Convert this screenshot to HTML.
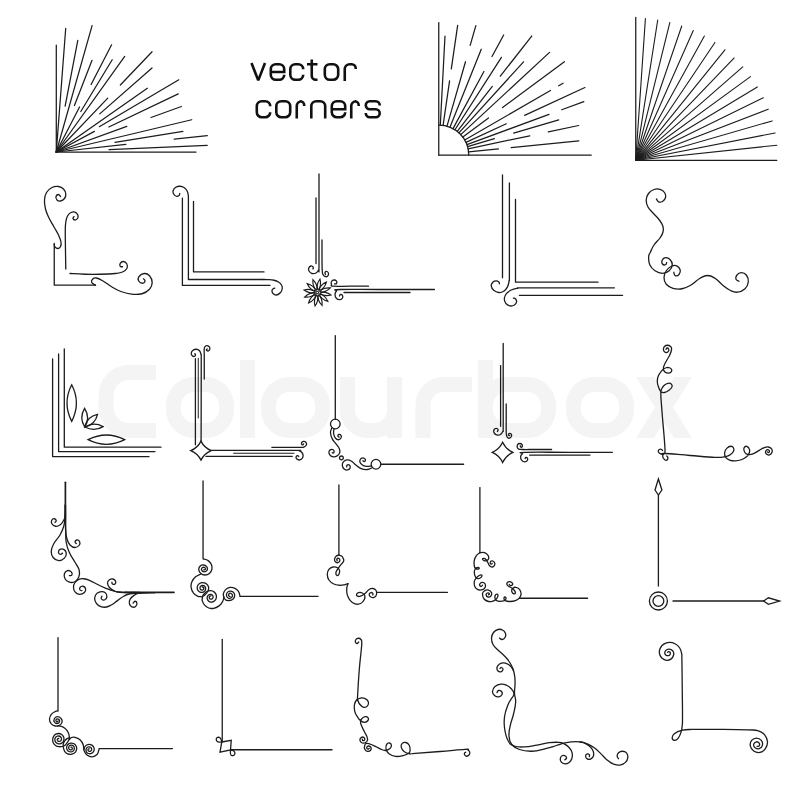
<!DOCTYPE html>
<html><head><meta charset="utf-8"><title>vector corners</title>
<style>html,body{margin:0;padding:0;background:#fff}svg{display:block}
.wm{font-family:"Liberation Sans",sans-serif;font-weight:bold;fill:#f4f4f4}</style></head>
<body><svg width="800" height="800" viewBox="0 0 800 800">
<rect width="800" height="800" fill="#fff"/>
<g fill="none" stroke="#f4f4f4" stroke-width="15" stroke-linecap="butt"><path d="M156,372.5H129A23,23 0 0 0 106,395.5V407.5A23,23 0 0 0 129,430.5H156"/><path d="M194.5,384.5H205.5A21,21 0 0 1 226.5,405.5V409.5A21,21 0 0 1 205.5,430.5H194.5A21,21 0 0 1 173.5,409.5V405.5A21,21 0 0 1 194.5,384.5Z"/><path d="M247.5,360V438"/><path d="M289.5,384.5H301.5A21,21 0 0 1 322.5,405.5V409.5A21,21 0 0 1 301.5,430.5H289.5A21,21 0 0 1 268.5,409.5V405.5A21,21 0 0 1 289.5,384.5Z"/><path d="M347.5,377V410A20.5,20.5 0 0 0 368,430.5H374A20.5,20.5 0 0 0 394.5,410V377M394.5,405V438"/><path d="M423,438V405A20.5,20.5 0 0 1 443.5,384.5H472"/><path d="M485.5,360V438"/><path d="M506.5,384.5H527.5A21,21 0 0 1 548.5,405.5V409.5A21,21 0 0 1 527.5,430.5H506.5A21,21 0 0 1 485.5,409.5V405.5A21,21 0 0 1 506.5,384.5Z"/><path d="M594.5,384.5H605.5A21,21 0 0 1 626.5,405.5V409.5A21,21 0 0 1 605.5,430.5H594.5A21,21 0 0 1 573.5,409.5V405.5A21,21 0 0 1 594.5,384.5Z"/></g><path fill="#f4f4f4" d="M636,377H654L692,438H674ZM674,377H692L654,438H636Z"/>
<g fill="none" stroke="#1c1c1c" stroke-linecap="round" stroke-linejoin="round">
<path d="M56.3,152L56.3,45" stroke-width="1.25" />
<path d="M56.3,152L65.7,28.46" stroke-width="1.25" />
<path d="M65.13,106.14L77.8,40.35" stroke-width="1.25" />
<path d="M56.3,152L92.08,25.56" stroke-width="1.25" />
<path d="M74.43,105.51L92.04,60.32" stroke-width="1.25" />
<path d="M56.3,152L79.55,106.95" stroke-width="1.25" />
<path d="M91.11,84.55L111.61,44.83" stroke-width="1.25" />
<path d="M80.8,111.54L112.2,59.71" stroke-width="1.25" />
<path d="M56.3,152L124.7,56.46" stroke-width="1.25" />
<path d="M56.3,152L107.77,98.14" stroke-width="1.25" />
<path d="M120.34,84.98L152.06,51.8" stroke-width="1.25" />
<path d="M99.72,113.85L152.01,67.92" stroke-width="1.25" />
<path d="M56.3,152L147.31,88.28" stroke-width="1.25" />
<path d="M99.3,126.67L178.82,79.83" stroke-width="1.25" />
<path d="M56.3,152L94.39,131.41" stroke-width="1.25" />
<path d="M108.83,126.94L178.24,93.84" stroke-width="1.25" />
<path d="M56.3,152L126.78,126.35" stroke-width="1.25" />
<path d="M151.02,117.52L181.37,106.48" stroke-width="1.25" />
<path d="M56.3,152L191.71,119.74" stroke-width="1.25" />
<path d="M115.02,142.38L182.91,131.27" stroke-width="1.25" />
<path d="M56.3,152L125.79,144.45" stroke-width="1.25" />
<path d="M174.21,139.19L207.31,135.59" stroke-width="1.25" />
<path d="M109.05,149.7L207.16,145.41" stroke-width="1.25" />
<path d="M56.3,152L196,152" stroke-width="1.25" />
<path d="M438.75,22.5L438.75,155" stroke-width="1.25" />
<path d="M438.75,155L591.25,155" stroke-width="1.25" />
<path d="M438.75,125.0A30,30 0 0 1 468.75,155.0" stroke-width="1.25" />
<path d="M440.32,125.04L444.98,36.16" stroke-width="1.25" />
<path d="M443.08,125.31L449.58,80.79" stroke-width="1.25" />
<path d="M451.31,68.91L457.66,25.37" stroke-width="1.25" />
<path d="M447.02,126.16L465.49,61.76" stroke-width="1.25" />
<path d="M470.17,45.42L475.85,25.61" stroke-width="1.25" />
<path d="M449.94,127.16L481.27,49.23" stroke-width="1.25" />
<path d="M453.02,128.61L483.93,71.43" stroke-width="1.25" />
<path d="M492.02,56.48L503.67,34.93" stroke-width="1.25" />
<path d="M454.96,129.75L501.42,57.38" stroke-width="1.25" />
<path d="M457.22,131.36L492.31,86.44" stroke-width="1.25" />
<path d="M500.32,76.2L531.71,36.01" stroke-width="1.25" />
<path d="M458.94,132.81L523.55,61.81" stroke-width="1.25" />
<path d="M460.76,134.62L549.54,52.4" stroke-width="1.25" />
<path d="M462.83,137.11L488.52,118.03" stroke-width="1.25" />
<path d="M502.57,107.6L564.39,61.69" stroke-width="1.25" />
<path d="M464.73,140L550.47,90.5" stroke-width="1.25" />
<path d="M558.69,85.75L563.11,83.2" stroke-width="1.25" />
<path d="M465.98,142.42L506.29,123.79" stroke-width="1.25" />
<path d="M524.63,115.32L584.9,87.47" stroke-width="1.25" />
<path d="M466.9,144.64L549.02,114.43" stroke-width="1.25" />
<path d="M561.69,109.77L583.84,101.62" stroke-width="1.25" />
<path d="M467.54,146.58L494.42,138.72" stroke-width="1.25" />
<path d="M513.61,133.11L558.73,119.92" stroke-width="1.25" />
<path d="M468.11,148.81L529.75,135.82" stroke-width="1.25" />
<path d="M548.34,131.91L578.68,125.51" stroke-width="1.25" />
<path d="M468.6,151.97L498.44,148.94" stroke-width="1.25" />
<path d="M511.18,147.64L578.83,140.77" stroke-width="1.25" />
<path d="M635.75,17.4L635.75,160.3" stroke-width="1.25" />
<path d="M635.75,160.3L776.8,160.3" stroke-width="1.25" />
<path d="M635.75,160.3L645.41,18.63" stroke-width="1.1" />
<path d="M635.75,160.3L657.72,20.01" stroke-width="1.1" />
<path d="M635.75,160.3L669.86,22.46" stroke-width="1.1" />
<path d="M635.75,160.3L681.75,25.96" stroke-width="1.1" />
<path d="M635.75,160.3L693.28,30.48" stroke-width="1.1" />
<path d="M635.75,160.3L704.38,35.98" stroke-width="1.1" />
<path d="M635.75,160.3L714.95,42.44" stroke-width="1.1" />
<path d="M635.75,160.3L724.92,49.79" stroke-width="1.1" />
<path d="M635.75,160.3L734.21,57.98" stroke-width="1.1" />
<path d="M635.75,160.3L742.76,66.95" stroke-width="1.1" />
<path d="M635.75,160.3L750.48,76.63" stroke-width="1.1" />
<path d="M635.75,160.3L757.34,86.95" stroke-width="1.1" />
<path d="M635.75,160.3L763.27,97.83" stroke-width="1.1" />
<path d="M635.75,160.3L768.23,109.18" stroke-width="1.1" />
<path d="M635.75,160.3L772.18,120.92" stroke-width="1.1" />
<path d="M635.75,160.3L775.09,132.96" stroke-width="1.1" />
<path d="M635.75,160.3L776.95,145.21" stroke-width="1.1" />
<path d="M251.5,63L258.25,80.4L265,63" stroke-width="2.6" stroke-linecap="butt" stroke-linejoin="miter" stroke-miterlimit="2" stroke="#111"/>
<path d="M270.8,72H284.2V69.3A5,5 0 0 0 279.2,64.3H275.8A5,5 0 0 0 270.8,69.3V74.7A5,5 0 0 0 275.8,79.7H279.2A5,5 0 0 0 284.2,74.7V75.5" stroke-width="2.6" stroke-linecap="butt" stroke-linejoin="miter" stroke-miterlimit="2" stroke="#111"/>
<path d="M303.2,68.9V69.3A5,5 0 0 0 298.2,64.3H295.3A5,5 0 0 0 290.3,69.3V74.7A5,5 0 0 0 295.3,79.7H298.2A5,5 0 0 0 303.2,74.7V75.1" stroke-width="2.6" stroke-linecap="butt" stroke-linejoin="miter" stroke-miterlimit="2" stroke="#111"/>
<path d="M311.75,59.5V75.7A4,4 0 0 0 315.75,79.7H317.5M307,64.3H317.5" stroke-width="2.6" stroke-linecap="butt" stroke-linejoin="miter" stroke-miterlimit="2" stroke="#111"/>
<path d="M329.8,64.3H333.2A5,5 0 0 1 338.2,69.3V74.7A5,5 0 0 1 333.2,79.7H329.8A5,5 0 0 1 324.8,74.7V69.3A5,5 0 0 1 329.8,64.3Z" stroke-width="2.6" stroke-linecap="butt" stroke-linejoin="miter" stroke-miterlimit="2" stroke="#111"/>
<path d="M344.75,81V69.3A5,5 0 0 1 349.75,64.3H351.7A4,4 0 0 1 355.7,68.3V69.1" stroke-width="2.6" stroke-linecap="butt" stroke-linejoin="miter" stroke-miterlimit="2" stroke="#111"/>
<path d="M270.2,105.9V106.3A5,5 0 0 0 265.2,101.3H261.8A5,5 0 0 0 256.8,106.3V112.2A5,5 0 0 0 261.8,117.2H265.2A5,5 0 0 0 270.2,112.2V112.6" stroke-width="2.6" stroke-linecap="butt" stroke-linejoin="miter" stroke-miterlimit="2" stroke="#111"/>
<path d="M281.3,101.3H285.2A5,5 0 0 1 290.2,106.3V112.2A5,5 0 0 1 285.2,117.2H281.3A5,5 0 0 1 276.3,112.2V106.3A5,5 0 0 1 281.3,101.3Z" stroke-width="2.6" stroke-linecap="butt" stroke-linejoin="miter" stroke-miterlimit="2" stroke="#111"/>
<path d="M296.75,118.5V106.3A5,5 0 0 1 301.75,101.3H300.2A4,4 0 0 1 304.2,105.3V106.1" stroke-width="2.6" stroke-linecap="butt" stroke-linejoin="miter" stroke-miterlimit="2" stroke="#111"/>
<path d="M311.3,118.5V106.3A5,5 0 0 1 316.3,101.3H320.2A5,5 0 0 1 325.2,106.3V118.5" stroke-width="2.6" stroke-linecap="butt" stroke-linejoin="miter" stroke-miterlimit="2" stroke="#111"/>
<path d="M331.8,109.25H345.2V106.3A5,5 0 0 0 340.2,101.3H336.8A5,5 0 0 0 331.8,106.3V112.2A5,5 0 0 0 336.8,117.2H340.2A5,5 0 0 0 345.2,112.2V113" stroke-width="2.6" stroke-linecap="butt" stroke-linejoin="miter" stroke-miterlimit="2" stroke="#111"/>
<path d="M351.25,118.5V106.3A5,5 0 0 1 356.25,101.3H354.7A4,4 0 0 1 358.7,105.3V106.1" stroke-width="2.6" stroke-linecap="butt" stroke-linejoin="miter" stroke-miterlimit="2" stroke="#111"/>
<path d="M379.7,105.6V105.2A3.9,3.9 0 0 0 375.8,101.3H369.7A3.9,3.9 0 0 0 365.8,105.2V105.35A3.9,3.9 0 0 0 369.7,109.25H375.8A3.9,3.9 0 0 1 379.7,113.15V113.3A3.9,3.9 0 0 1 375.8,117.2H369.7A3.9,3.9 0 0 1 365.8,113.3V112.9" stroke-width="2.6" stroke-linecap="butt" stroke-linejoin="miter" stroke-miterlimit="2" stroke="#111"/>
<path d="M60.5,196.5C60.05,196.05 59.52,194.5 58.5,194.5C57.48,194.5 56.34,195.25 56,196.5C55.66,197.75 55.98,198.98 57,200C58.02,201.02 58.8,201.34 60.5,201C62.2,200.66 63.3,200.09 64.5,198.5C65.7,196.91 66.03,196.15 65.8,194C65.57,191.85 65.15,190.7 63.5,189C61.85,187.3 61.11,186.84 58.5,186.5C55.89,186.16 54.72,186.14 52,187.5C49.28,188.86 48.2,189.67 46.5,192.5C44.8,195.33 44.73,196.26 44.5,200C44.27,203.74 44.48,204.92 45.5,209C46.52,213.08 47.07,213.92 49,218C50.93,222.08 51.85,223.15 54,227C56.15,230.85 56.91,231.6 58.5,235C60.09,238.4 60.55,239.39 61,242C61.45,244.61 61.18,245.03 60.5,246.5C59.82,247.97 59.25,248.39 58,248.5C56.75,248.61 55.85,247.96 55,247C54.15,246.04 54.42,244.87 54.25,244.25" stroke-width="1.3" />
<path d="M54.25,243.5V285.2H95.5" stroke-width="1.3" />
<path d="M95.5,285.2C94.65,284.59 92.43,283.86 91.75,282.5C91.07,281.14 91.48,280.22 92.5,279.2C93.52,278.18 93.87,277.59 96.25,278C98.63,278.41 99.43,278.96 103,281C106.57,283.04 107.92,284.62 112,287C116.08,289.38 116.58,289.87 121,291.5C125.42,293.13 126.74,293.69 131.5,294.2C136.26,294.71 137.92,294.87 142,293.75C146.08,292.63 147.19,291.8 149.5,289.25C151.81,286.7 152.2,285.56 152.2,282.5C152.2,279.44 151.3,277.79 149.5,275.75C147.7,273.71 146.63,273.33 144.25,273.5C141.87,273.67 140.26,274.8 139,276.5C137.74,278.2 137.85,279.47 138.7,281C139.55,282.53 141.32,283.25 142.75,283.25C144.18,283.25 144.83,282.02 145,281C145.17,279.98 143.84,279.26 143.5,278.75" stroke-width="1.3" />
<path d="M74,216.5C73.77,216.95 72.77,217.71 73,218.5C73.23,219.29 73.98,220 75,220C76.02,220 76.87,219.63 77.5,218.5C78.13,217.37 78.37,216.43 77.8,215C77.23,213.57 76.54,212.77 75,212.2C73.46,211.63 72.7,211.64 71,212.5C69.3,213.36 68.68,213.85 67.5,216C66.32,218.15 66.3,218.83 65.8,222C65.3,225.17 65.39,224.79 65.3,230C65.21,235.21 65.29,236.16 65.4,245C65.51,253.84 65.71,263.56 65.8,269" stroke-width="1.3" />
<path d="M70,273.5C73.4,273.67 78.2,274.08 85,274.25C91.8,274.42 93.2,274.42 100,274.25C106.8,274.08 109.9,274.01 115,273.5C120.1,272.99 119.78,273.19 122.5,272C125.22,270.81 126.05,270.12 127,268.25C127.95,266.38 127.55,265.28 126.7,263.75C125.85,262.22 124.71,261.6 123.25,261.5C121.79,261.4 120.93,262.21 120.25,263.3C119.57,264.39 119.74,265.52 120.25,266.3C120.76,267.08 121.99,266.65 122.5,266.75" stroke-width="1.3" />
<path d="M182.4,198.25V285.4H270" stroke-width="1.3" />
<path d="M193.5,201.5V271.9H264" stroke-width="1.3" />
<path d="M179.75,193.5C179.58,193.95 179.79,194.88 179,195.5C178.21,196.12 177.5,196.65 176.25,196.25C175,195.85 174.18,195.11 173.5,193.75C172.82,192.39 172.74,191.72 173.25,190.25C173.76,188.78 174.22,188.16 175.75,187.25C177.28,186.34 178.13,186.19 180,186.25C181.87,186.31 182.41,186.48 184,187.5C185.59,188.52 186.04,189.05 187,190.75C187.96,192.45 187.93,192.9 188.25,195C188.57,197.1 188.37,196.6 188.4,200C188.43,203.4 188.4,207.73 188.4,210V279.5H262" stroke-width="1.3" />
<path d="M262,279.5C263.25,279.52 264.78,279.43 267.5,279.6C270.22,279.77 271.51,279.71 274,280.25C276.49,280.79 276.8,280.92 278.5,282C280.2,283.08 280.65,283.53 281.5,285C282.35,286.47 282.48,286.8 282.25,288.5C282.02,290.2 281.8,291.03 280.5,292.5C279.2,293.97 278.2,294.77 276.5,295C274.8,295.23 274.02,294.52 273,293.5C271.98,292.48 271.89,291.63 272,290.5C272.11,289.37 272.88,289.01 273.5,288.5C274.12,287.99 274.47,288.31 274.75,288.25" stroke-width="1.3" />
<path d="M316,198V263.5" stroke-width="1.3" />
<path d="M319,174C319,184.43 319,199.15 319,220C319,240.85 319.11,254.67 319,266C318.89,277.33 319.18,268.41 318.5,270C317.82,271.59 317.47,272.21 316,273C314.53,273.79 313.59,273.95 312,273.5C310.41,273.05 309.73,272.25 309,271C308.27,269.75 308.35,269.13 308.8,268C309.25,266.87 310,266.18 311,266C312,265.82 312.75,266.52 313.2,267.2C313.65,267.88 313.05,268.59 313,269" stroke-width="1.3" />
<path d="M322,240C322,243.4 321.95,248.2 322,255C322.05,261.8 321.97,265.58 322.2,270C322.43,274.42 322.37,273.03 323,274.5C323.63,275.97 323.98,276.11 325,276.5C326.02,276.89 326.71,276.88 327.5,276.2C328.29,275.52 328.61,274.57 328.5,273.5C328.39,272.43 327.79,271.73 327,271.5C326.21,271.27 325.34,271.82 325,272.5C324.66,273.18 325.39,274.05 325.5,274.5" stroke-width="1.3" />
<path d="M368.5,286.2C364.31,286.2 357.93,286.2 350,286.2C342.07,286.2 337.69,286.59 333.5,286.2C329.31,285.81 331.95,285.57 331.5,284.5C331.05,283.43 330.93,282.52 331.5,281.5C332.07,280.48 332.87,280.07 334,280C335.13,279.93 335.93,280.41 336.5,281.2C337.07,281.99 336.95,282.91 336.5,283.5C336.05,284.09 334.95,283.73 334.5,283.8" stroke-width="1.3" />
<path d="M434.4,289.5C422.07,289.5 401.4,289.5 380,289.5C358.6,289.5 349.86,289.16 340,289.5C330.14,289.84 337.63,289.87 336.5,291C335.37,292.13 335,292.8 335,294.5C335,296.2 335.37,297.32 336.5,298.5C337.63,299.68 338.64,299.81 340,299.7C341.36,299.59 341.93,298.95 342.5,298C343.07,297.05 342.95,296.29 342.5,295.5C342.05,294.71 341.18,294.39 340.5,294.5C339.82,294.61 339.73,295.66 339.5,296" stroke-width="1.3" />
<path d="M344,292.5H410" stroke-width="1.3" />
<path d="M317.97,289.94C320.67,288 321.09,283 320,279.03C317.55,282.34 316.15,287.16 317.97,289.94Z" stroke-width="1.15" stroke-linejoin="miter"/>
<path d="M319.19,290.52C322.5,290.19 325.36,286.06 326.4,282.08C322.63,283.73 319,287.2 319.19,290.52Z" stroke-width="1.15" stroke-linejoin="miter"/>
<path d="M319.95,291.63C322.98,293 327.53,290.86 330.41,287.93C326.33,287.47 321.45,288.66 319.95,291.63Z" stroke-width="1.15" stroke-linejoin="miter"/>
<path d="M320.06,292.97C322,295.67 327,296.09 330.97,295C327.66,292.55 322.84,291.15 320.06,292.97Z" stroke-width="1.15" stroke-linejoin="miter"/>
<path d="M319.48,294.19C319.81,297.5 323.94,300.36 327.92,301.4C326.27,297.63 322.8,294 319.48,294.19Z" stroke-width="1.15" stroke-linejoin="miter"/>
<path d="M318.37,294.95C317,297.98 319.14,302.53 322.07,305.41C322.53,301.33 321.34,296.45 318.37,294.95Z" stroke-width="1.15" stroke-linejoin="miter"/>
<path d="M317.03,295.06C314.33,297 313.91,302 315,305.97C317.45,302.66 318.85,297.84 317.03,295.06Z" stroke-width="1.15" stroke-linejoin="miter"/>
<path d="M315.81,294.48C312.5,294.81 309.64,298.94 308.6,302.92C312.37,301.27 316,297.8 315.81,294.48Z" stroke-width="1.15" stroke-linejoin="miter"/>
<path d="M315.05,293.37C312.02,292 307.47,294.14 304.59,297.07C308.67,297.53 313.55,296.34 315.05,293.37Z" stroke-width="1.15" stroke-linejoin="miter"/>
<path d="M314.94,292.03C313,289.33 308,288.91 304.03,290C307.34,292.45 312.16,293.85 314.94,292.03Z" stroke-width="1.15" stroke-linejoin="miter"/>
<path d="M315.52,290.81C315.19,287.5 311.06,284.64 307.08,283.6C308.73,287.37 312.2,291 315.52,290.81Z" stroke-width="1.15" stroke-linejoin="miter"/>
<path d="M316.63,290.05C318,287.02 315.86,282.47 312.93,279.59C312.47,283.67 313.66,288.55 316.63,290.05Z" stroke-width="1.15" stroke-linejoin="miter"/>
<path d="M314.8,292.5a2.7,2.7 0 1 0 5.4,0a2.7,2.7 0 1 0 -5.4,0" stroke-width="1.0" fill="#fff"/>
<path d="M316.5,291.5h2v2h-2Z" stroke-width="0.9" />
<path d="M502.5,175V277.8" stroke-width="1.3" />
<path d="M509.4,183C509.4,193.65 509.4,209.28 509.4,230C509.4,250.72 509.47,262.93 509.4,274.4C509.33,285.87 509.53,277.77 509.1,280.6C508.67,283.43 508.71,284.49 507.5,286.9C506.29,289.31 505.73,289.98 503.75,291.25C501.77,292.52 501.02,292.72 498.75,292.5C496.48,292.28 495.45,291.8 493.75,290.3C492.05,288.8 491.47,287.74 491.25,285.9C491.03,284.06 491.67,283.33 492.8,282.2C493.93,281.07 494.84,280.9 496.25,280.9C497.66,280.9 498.29,281.55 499,282.2C499.71,282.85 499.31,283.4 499.4,283.75" stroke-width="1.3" />
<path d="M515.5,199.4V282.2H598" stroke-width="1.3" />
<path d="M614.4,287.8C604.34,287.8 590.55,287.8 570,287.8C549.45,287.8 535.65,287.7 523.75,287.8C511.85,287.9 520.33,287.75 517.5,288.25C514.67,288.75 513.72,288.83 511.25,290C508.78,291.17 508.15,291.56 506.6,293.4C505.05,295.24 504.63,295.9 504.4,298.1C504.17,300.3 504.33,301.33 505.6,303.1C506.87,304.87 508.01,305.47 510,305.9C511.99,306.33 512.9,305.91 514.4,305C515.9,304.09 516.33,303.26 516.6,301.9C516.87,300.54 516.33,299.86 515.6,299C514.87,298.14 513.9,298.3 513.4,298.1" stroke-width="1.3" />
<path d="M519.4,295.3H622.6" stroke-width="1.3" />
<path d="M656.5,199C656.95,199.63 657.14,201.23 658.5,201.8C659.86,202.37 660.91,202.47 662.5,201.5C664.09,200.53 665.05,199.54 665.5,197.5C665.95,195.46 665.75,194.36 664.5,192.5C663.25,190.64 662.38,189.98 660,189.3C657.62,188.62 656.61,188.55 654,189.5C651.39,190.45 650.27,191.12 648.5,193.5C646.73,195.88 646.31,196.94 646.2,200C646.09,203.06 646.46,204.05 648,207C649.54,209.95 650.51,210.17 653,213C655.49,215.83 656.78,216.55 659,219.5C661.22,222.45 661.89,223.17 662.8,226C663.71,228.83 663.63,229.28 663,232C662.37,234.72 662.04,235.05 660,238C657.96,240.95 656.15,241.83 654,245C651.85,248.17 651.7,249.39 650.5,252C649.3,254.61 648.87,253.61 648.7,256.5C648.53,259.39 648.32,261.52 649.75,264.75C651.18,267.98 652.11,268.81 655,270.75C657.89,272.69 659.27,273.3 662.5,273.3C665.73,273.3 667.04,272.69 669.25,270.75C671.46,268.81 672.08,267.3 672.25,264.75C672.42,262.2 671.53,261.1 670,259.5C668.47,257.9 667.27,257.53 665.5,257.7C663.73,257.87 662.88,258.82 662.2,260.25C661.52,261.68 661.75,262.98 662.5,264C663.25,265.02 664.55,265.09 665.5,264.75C666.45,264.41 666.43,263.01 666.7,262.5" stroke-width="1.3" />
<path d="M673.75,272.25C674.09,273.03 674.06,275.19 675.25,275.7C676.44,276.21 677.88,275.79 679,274.5C680.12,273.21 680.71,271.97 680.2,270C679.69,268.03 678.72,266.65 676.75,265.8C674.78,264.95 673.88,265.13 671.5,266.25C669.12,267.37 667.95,268.2 666.25,270.75C664.55,273.3 664,274.44 664,277.5C664,280.56 664.21,281.8 666.25,284.25C668.29,286.7 669.43,287.28 673,288.3C676.57,289.32 677.92,289.5 682,288.75C686.08,288 686.92,287.38 691,285C695.08,282.62 696.26,280.4 700,278.25C703.74,276.1 704.1,275.5 707.5,275.5C710.9,275.5 711.6,276.1 715,278.25C718.4,280.4 719.1,282.28 722.5,285C725.9,287.72 726.6,288.62 730,290.25C733.4,291.88 734.1,292.54 737.5,292.2C740.9,291.86 742.55,291.06 745,288.75C747.45,286.44 747.96,285.06 748.3,282C748.64,278.94 748.1,277.36 746.5,275.25C744.9,273.14 743.46,272.7 741.25,272.7C739.04,272.7 737.94,273.75 736.75,275.25C735.56,276.75 735.49,277.94 736,279.3C736.51,280.66 738.32,280.81 739,281.25" stroke-width="1.3" />
<path d="M52.6,359V456.6H149" stroke-width="1.3" />
<path d="M58.6,354V451.6H155" stroke-width="1.3" />
<path d="M64.3,349V447.2H161" stroke-width="1.3" />
<path d="M71.7,384.8Q62.3,403.1 71.7,421.4Q81.1,403.1 71.7,384.8Z" stroke-width="1.3" stroke-linejoin="miter"/>
<path d="M88.1,439.7Q106.4,449.1 124.7,439.7Q106.4,430.3 88.1,439.7Z" stroke-width="1.3" stroke-linejoin="miter"/>
<path d="M84.8,427Q90.5,417.59 84.6,408.3Q78.9,417.71 84.8,427Z" stroke-width="1.3" stroke-linejoin="miter"/>
<path d="M84.8,427Q95.23,424.82 97.5,414.4Q87.07,416.58 84.8,427Z" stroke-width="1.3" stroke-linejoin="miter"/>
<path d="M84.8,427Q94.06,432 103.1,426.6Q93.84,421.6 84.8,427Z" stroke-width="1.3" stroke-linejoin="miter"/>
<path d="M195.4,358.75V444.75" stroke-width="1.3" />
<path d="M198.25,358.25V418" stroke-width="1.0" />
<path d="M201.1,441.5C201.12,432.09 201.17,418.47 201.2,400C201.23,381.53 201.3,370.31 201.25,360C201.2,349.69 201.4,356.6 201,354.5C200.6,352.4 200.58,351.94 199.5,350.75C198.42,349.56 197.78,349.31 196.25,349.25C194.72,349.19 193.88,349.59 192.75,350.5C191.62,351.41 191.31,352 191.25,353.25C191.19,354.5 191.71,355.32 192.5,356C193.29,356.68 194.07,356.53 194.75,356.25C195.43,355.97 195.5,355.32 195.5,354.75C195.5,354.18 194.92,353.98 194.75,353.75" stroke-width="1.3" />
<path d="M204.25,379C204.25,375.83 204.25,370.44 204.25,365C204.25,359.56 204.27,358.4 204.25,355C204.23,351.6 204.04,351.81 204.15,350C204.26,348.19 204.16,348 204.75,347C205.34,346 205.79,345.71 206.75,345.6C207.71,345.49 208.3,345.79 209,346.5C209.7,347.21 209.91,347.79 209.85,348.75C209.79,349.71 209.4,350.3 208.75,350.75C208.1,351.2 207.53,351.03 207,350.75C206.47,350.47 206.34,349.92 206.4,349.5C206.46,349.08 207.06,349.04 207.25,348.9" stroke-width="1.3" />
<path d="M201,441.1Q204.16,447.66 211.2,450.6Q204.16,453.55 201,460.1Q197.84,453.55 190.8,450.6Q197.84,447.66 201,441.1Z" stroke-width="1.3" stroke-linejoin="miter"/>
<path d="M271.9,447.4C274.87,447.4 278.63,447.4 285,447.4C291.37,447.4 295.75,447.45 300,447.4C304.25,447.35 302.33,447.68 303.75,447.2C305.17,446.72 305.68,446.3 306.25,445.3C306.82,444.3 306.76,443.68 306.25,442.8C305.74,441.92 304.99,441.54 304,441.4C303.01,441.26 302.44,441.61 301.9,442.2C301.36,442.79 301.4,443.39 301.6,444C301.8,444.61 302.35,444.92 302.8,444.9C303.25,444.88 303.42,444.13 303.6,443.9" stroke-width="1.3" />
<path d="M211,450.3C219.84,450.3 230.96,450.3 250,450.3C269.04,450.3 283.89,450.23 295,450.3C306.11,450.37 297.44,450.1 299,450.6C300.56,451.1 300.97,451.43 301.9,452.5C302.83,453.57 303.03,453.96 303.1,455.3C303.17,456.64 303.04,457.33 302.2,458.4C301.36,459.47 300.67,459.92 299.4,460C298.13,460.08 297.31,459.52 296.6,458.75C295.89,457.98 295.98,457.31 296.25,456.6C296.52,455.89 297.23,455.6 297.8,455.6C298.37,455.6 298.53,456.37 298.75,456.6" stroke-width="1.3" />
<path d="M233.6,453.25H294" stroke-width="1.0" />
<path d="M206,456.4H292.2" stroke-width="1.3" />
<path d="M335.3,335.6V419.2" stroke-width="1.3" />
<path d="M330.5,424a4.8,4.8 0 1 0 9.6,0a4.8,4.8 0 1 0 -9.6,0" stroke-width="1.3" />
<path d="M371.2,464.25a4.8,4.8 0 1 0 9.6,0a4.8,4.8 0 1 0 -9.6,0" stroke-width="1.3" />
<path d="M380.8,464.25H463.6" stroke-width="1.3" />
<path d="M339.5,457.9a1.9,1.9 0 1 0 3.8,0a1.9,1.9 0 1 0 -3.8,0" stroke-width="1.3" />
<path d="M331.8,427.9C331.51,429 330.4,430.26 330.5,432.75C330.6,435.24 330.96,436.33 332.25,438.9C333.54,441.47 334.61,441.92 336.2,444.1C337.79,446.28 338.46,446.51 339.25,448.5C340.04,450.49 340.19,451.22 339.7,452.9C339.21,454.58 338.6,455.02 337.1,455.9C335.6,456.78 334.8,457.09 333.1,456.8C331.4,456.51 330.48,455.89 329.6,454.6C328.72,453.31 328.7,452.28 329.2,451.1C329.7,449.92 330.71,449.49 331.8,449.4C332.89,449.31 333.59,449.91 334,450.7C334.41,451.49 334,452.45 333.6,452.9C333.2,453.35 332.56,452.75 332.25,452.7" stroke-width="1.3" />
<path d="M334,428.8C333.91,429.89 333.31,431.51 333.6,433.6C333.89,435.69 334.21,436.61 335.3,438C336.39,439.39 337.11,439.75 338.4,439.75C339.69,439.75 340.41,438.99 341,438C341.59,437.01 341.5,436.19 341,435.4C340.5,434.61 339.5,434.31 338.8,434.5C338.1,434.69 337.83,435.66 337.9,436.25C337.97,436.84 338.83,436.91 339.1,437.1" stroke-width="1.3" />
<path d="M372,467.75C370.92,468.15 369.72,469.31 367.25,469.5C364.78,469.69 363.67,469.6 361.1,468.6C358.53,467.6 358.08,466.78 355.9,465.1C353.72,463.42 353.49,462.38 351.5,461.2C349.51,460.02 348.89,459.81 347.1,459.9C345.31,459.99 344.69,460.42 343.6,461.6C342.51,462.78 342.19,463.4 342.3,465.1C342.41,466.8 342.9,468.01 344.1,469.1C345.3,470.19 346.22,470.21 347.6,469.9C348.98,469.59 349.81,468.84 350.2,467.75C350.59,466.66 350,465.7 349.3,465.1C348.6,464.5 347.69,464.69 347.1,465.1C346.51,465.51 346.79,466.49 346.7,466.9" stroke-width="1.3" />
<path d="M371.2,466C370.11,466.09 368.49,466.69 366.4,466.4C364.31,466.11 363.5,465.79 362,464.7C360.5,463.61 360,462.98 359.8,461.6C359.6,460.22 360.2,459.39 361.1,458.6C362,457.81 362.75,457.81 363.75,458.1C364.75,458.39 365.4,459.11 365.5,459.9C365.6,460.69 364.79,461.41 364.2,461.6C363.61,461.79 363.19,460.94 362.9,460.75" stroke-width="1.3" />
<path d="M500.6,365.6V426.25" stroke-width="1.3" />
<path d="M503.2,343.4C503.2,353.96 503.2,371.22 503.2,390C503.2,408.78 503.28,416.93 503.2,426.25C503.12,435.57 503.48,429.23 502.85,431.1C502.22,432.97 501.82,433.64 500.4,434.5C498.98,435.36 498.05,435.33 496.6,434.9C495.15,434.47 494.59,433.8 494,432.6C493.41,431.4 493.49,430.56 494,429.6C494.51,428.64 495.32,428.35 496.25,428.35C497.18,428.35 497.84,428.89 498.1,429.6C498.36,430.31 497.56,431.07 497.4,431.5" stroke-width="1.3" />
<path d="M506.2,404C506.2,407.17 506.2,412.11 506.2,418C506.2,423.89 506.13,426.09 506.2,430C506.27,433.91 506.11,433.46 506.5,435.25C506.89,437.04 507.08,437.3 507.9,437.9C508.72,438.5 509.26,438.33 510.1,437.9C510.94,437.47 511.42,436.94 511.6,436C511.78,435.06 511.49,434.29 510.9,433.75C510.31,433.21 509.52,433.26 509,433.6C508.48,433.94 508.43,434.8 508.6,435.25C508.77,435.7 509.49,435.52 509.75,435.6" stroke-width="1.3" />
<path d="M502.6,442.3Q505.79,449.27 512.9,452.4Q505.79,455.53 502.6,462.5Q499.41,455.53 492.3,452.4Q499.41,449.27 502.6,442.3Z" stroke-width="1.3" stroke-linejoin="miter"/>
<path d="M551.6,449.5C547.84,449.5 541.6,449.5 535,449.5C528.4,449.5 526.18,449.59 522.5,449.5C518.82,449.41 519.94,449.61 518.75,449.1C517.56,448.59 517.51,448.27 517.25,447.25C516.99,446.23 517,445.45 517.6,444.6C518.2,443.75 518.88,443.5 519.9,443.5C520.92,443.5 521.6,443.83 522.1,444.6C522.6,445.37 522.44,446.38 522.1,446.9C521.76,447.42 521.02,447.16 520.6,446.9C520.18,446.64 520.33,446.01 520.25,445.75" stroke-width="1.3" />
<path d="M612.4,452.3C602.79,452.3 589.7,452.3 570,452.3C550.3,452.3 536.27,452.01 525.5,452.3C514.73,452.59 523.61,452.63 522.5,453.6C521.39,454.57 520.77,455.06 520.6,456.6C520.43,458.14 520.81,459.2 521.75,460.4C522.69,461.6 523.47,461.9 524.75,461.9C526.03,461.9 526.8,461.26 527.4,460.4C528,459.54 527.74,458.78 527.4,458.1C527.06,457.42 526.42,457.31 525.9,457.4C525.38,457.49 525.28,458.25 525.1,458.5" stroke-width="1.3" />
<path d="M529.6,455.1H590" stroke-width="1.3" />
<path d="M666,349.4C666.23,349.08 666.41,348.09 667,348C667.59,347.91 668.24,348.32 668.6,349C668.96,349.68 669.02,350.21 668.6,351C668.18,351.79 667.68,352.33 666.75,352.5C665.82,352.67 665.26,352.45 664.5,351.75C663.74,351.05 663.4,350.59 663.4,349.4C663.4,348.21 663.57,347.44 664.5,346.5C665.43,345.56 666.14,345.25 667.5,345.25C668.86,345.25 669.57,345.56 670.5,346.5C671.43,347.44 671.77,347.47 671.6,349.4C671.43,351.33 670.85,352.54 669.75,355C668.65,357.46 668.03,357.87 666.75,360.25C665.47,362.63 664.86,363.54 664.1,365.5C663.34,367.46 663.22,367.45 663.4,368.9C663.58,370.35 663.8,370.93 664.9,371.9C666,372.87 666.81,373.2 668.25,373.2C669.69,373.2 670.49,372.72 671.25,371.9C672.01,371.08 672.02,370.54 671.6,369.6C671.18,368.66 670.67,368.17 669.4,367.75C668.13,367.33 667.45,367.33 666,367.75C664.55,368.17 664.36,368.41 663,369.6C661.64,370.79 661.19,371.21 660,373C658.81,374.79 658.34,375.29 657.75,377.5C657.16,379.71 657.14,380.37 657.4,382.75C657.66,385.13 658.06,385.96 658.9,388C659.74,390.04 659.83,390.73 661.1,391.75C662.37,392.77 662.71,392.84 664.5,392.5C666.29,392.16 667.3,391.52 669,390.25C670.7,388.98 671.49,388.34 672,386.9C672.51,385.46 672.18,384.69 671.25,383.9C670.32,383.11 669.6,382.98 667.9,383.4C666.2,383.82 665.29,384.2 663.75,385.75C662.21,387.3 661.75,388.04 661.1,390.25C660.45,392.46 660.9,393.29 660.9,395.5C660.9,397.71 660.74,394.9 661.1,400C661.46,405.1 661.84,410.07 662.5,418C663.16,425.93 663.49,428.88 664,435C664.51,441.12 664.52,441.26 664.75,445C664.98,448.74 665.11,449.57 665,451.5C664.89,453.43 664.93,452.88 664.25,453.5C663.57,454.12 663.08,454.31 662,454.25C660.92,454.19 660.35,453.93 659.5,453.25C658.65,452.57 658.31,452.1 658.25,451.25C658.19,450.4 658.57,449.95 659.25,449.5C659.93,449.05 660.51,449.02 661.25,449.25C661.99,449.48 662.22,450.22 662.5,450.5" stroke-width="1.3" />
<path d="M666.75,456C666.98,456.28 667.58,456.46 667.75,457.25C667.92,458.04 668.01,458.82 667.5,459.5C666.99,460.18 666.46,460.59 665.5,460.25C664.54,459.91 663.87,458.96 663.25,458C662.63,457.04 662.76,456.79 662.75,456C662.74,455.21 662.69,455.07 663.2,454.5C663.71,453.93 658.93,453.27 665,453.5C671.07,453.73 678.67,454.63 690,455.5C701.33,456.37 707.63,456.99 715,457.35C722.37,457.71 719.95,457.32 722.5,457.1C725.05,456.88 724.55,456.9 726.25,456.4C727.95,455.9 728.38,456.01 730,454.9C731.62,453.79 732.63,453.12 733.4,451.5C734.17,449.88 734,448.94 733.4,447.75C732.8,446.56 732.2,446.17 730.75,446.25C729.3,446.33 728.36,446.74 727,448.1C725.64,449.46 725.09,450.21 724.75,452.25C724.41,454.29 724.4,455.32 725.5,457.1C726.6,458.88 727.39,459.24 729.6,460.1C731.81,460.96 732.61,460.98 735.25,460.9C737.89,460.82 738.7,460.69 741.25,459.75C743.8,458.81 744.72,458.19 746.5,456.75C748.28,455.31 748.42,455.02 749.1,453.4C749.78,451.78 749.92,451.14 749.5,449.6C749.08,448.06 748.36,447.19 747.25,446.6C746.14,446.01 745.36,446.23 744.6,447C743.84,447.77 743.64,448.55 743.9,450C744.16,451.45 744.48,452.36 745.75,453.4C747.02,454.44 747.63,454.6 749.5,454.6C751.37,454.6 751.79,454.35 754,453.4C756.21,452.45 757.04,451.65 759.25,450.4C761.46,449.15 761.71,448.67 763.75,447.9C765.79,447.13 766.47,446.77 768.25,447C770.03,447.23 770.75,447.71 771.6,448.9C772.45,450.09 772.5,450.89 772,452.25C771.5,453.61 770.67,454.48 769.4,454.9C768.13,455.32 767.26,454.87 766.4,454.1C765.54,453.33 765.35,452.52 765.6,451.5C765.85,450.48 766.64,449.77 767.5,449.6C768.36,449.43 769.15,450.07 769.4,450.75C769.65,451.43 769.03,452.34 768.6,452.6C768.17,452.86 767.75,452.06 767.5,451.9" stroke-width="1.3" />
<path d="M65.4,482.25V516" stroke-width="1.7" />
<path d="M65.3,505C65.23,507.55 65.5,512.57 65,516.25C64.5,519.93 64.23,519.27 63.1,521.25C61.97,523.23 61.7,523.87 60,525C58.3,526.13 57.44,526.53 55.6,526.25C53.76,525.97 52.74,525.17 51.9,523.75C51.06,522.33 51.33,521.13 51.9,520C52.47,518.87 53.41,518.61 54.4,518.75C55.39,518.89 56.11,519.81 56.25,520.6C56.39,521.39 55.28,521.88 55,522.25" stroke-width="1.3" />
<path d="M65.3,505C65.23,507.72 65.35,512.18 65,517C64.65,521.82 64.88,522.17 63.75,526.25C62.62,530.33 62.27,531.03 60,535C57.73,538.97 55.73,540.07 53.75,543.75C51.77,547.43 51.4,548.13 51.25,551.25C51.1,554.37 51.4,555.38 53.1,557.5C54.8,559.62 56.19,560.46 58.75,560.6C61.31,560.74 62.7,559.8 64.4,558.1C66.1,556.4 66.4,555.07 66.25,553.1C66.1,551.13 65.17,550.24 63.75,549.4C62.33,548.56 61.19,548.7 60,549.4C58.81,550.1 58.36,551.37 58.5,552.5C58.64,553.63 59.69,554.26 60.6,554.4C61.51,554.54 62.07,553.39 62.5,553.1" stroke-width="1.3" />
<path d="M65.5,505C65.52,507.83 65.58,511.83 65.6,517.5C65.62,523.17 65.31,525.18 65.6,530C65.89,534.82 65.9,535.35 66.9,538.75C67.9,542.15 68.16,543.02 70,545C71.84,546.98 72.87,547.5 75,547.5C77.13,547.5 78.4,546.42 79.4,545C80.4,543.58 79.97,542.38 79.4,541.25C78.83,540.12 77.9,539.85 76.9,540C75.9,540.15 75.15,541.11 75,541.9C74.85,542.69 75.97,543.14 76.25,543.5" stroke-width="1.3" />
<path d="M65.5,515C65.55,518.4 65.53,523.77 65.7,530C65.87,536.23 65.41,537.4 66.25,542.5C67.09,547.6 67.55,548.25 69.4,552.5C71.25,556.75 72.28,557.57 74.4,561.25C76.52,564.93 77.62,565.77 78.75,568.75C79.88,571.73 79.68,571.99 79.4,574.4C79.12,576.81 78.78,577.62 77.5,579.4C76.22,581.18 75.73,581.68 73.75,582.25C71.77,582.82 70.73,582.69 68.75,581.9C66.77,581.11 65.99,580.6 65,578.75C64.01,576.9 63.83,575.6 64.4,573.75C64.97,571.9 65.95,571.02 67.5,570.6C69.05,570.18 70.25,570.9 71.25,571.9C72.25,572.9 72.32,574.16 71.9,575C71.48,575.84 69.97,575.46 69.4,575.6" stroke-width="1.3" />
<path d="M174,592.4H125" stroke-width="1.6" />
<path d="M140,592.4C135.47,592.37 127.08,592.93 120,592.25C112.92,591.57 113.57,591.04 108.75,589.4C103.93,587.76 103,586.99 98.75,585C94.5,583.01 93.4,582.02 90,580.6C86.6,579.18 86.3,579.02 83.75,578.75C81.2,578.48 80.73,578.55 78.75,579.4C76.77,580.25 76.19,580.8 75,582.5C73.81,584.2 73.5,584.77 73.5,586.9C73.5,589.03 73.66,590.2 75,591.9C76.34,593.6 77.27,594.26 79.4,594.4C81.53,594.54 82.99,593.78 84.4,592.5C85.81,591.22 85.89,590.17 85.6,588.75C85.31,587.33 84.37,586.53 83.1,586.25C81.83,585.97 80.7,586.65 80,587.5C79.3,588.35 79.57,589.3 80,590C80.43,590.7 81.47,590.46 81.9,590.6" stroke-width="1.3" />
<path d="M135,592.4C131.6,592.37 124.82,592.66 120,592.25C115.18,591.84 116.15,591.68 113.75,590.6C111.35,589.52 110.82,589.2 109.4,587.5C107.98,585.8 107.5,584.86 107.5,583.1C107.5,581.34 108.13,580.68 109.4,579.75C110.67,578.82 111.69,578.66 113.1,579C114.51,579.34 115.17,580.12 115.6,581.25C116.03,582.38 115.7,583.38 115,584C114.3,584.62 113.2,584.4 112.5,584C111.8,583.6 112.04,582.65 111.9,582.25" stroke-width="1.3" />
<path d="M155,592.6C151.6,592.71 145.67,592.84 140,593.1C134.33,593.36 133.68,593.04 130,593.75C126.32,594.46 126.58,594.7 123.75,596.25C120.92,597.8 120.33,598.62 117.5,600.6C114.67,602.58 114.08,603.49 111.25,605C108.42,606.51 107.83,607.11 105,607.25C102.17,607.39 101.02,607.11 98.75,605.6C96.48,604.09 95.71,603 95,600.6C94.29,598.2 94.47,596.97 95.6,595C96.73,593.03 97.87,592.47 100,591.9C102.13,591.33 103.44,591.37 105,592.5C106.56,593.63 107.04,595.2 106.9,596.9C106.76,598.6 105.68,599.58 104.4,600C103.12,600.42 101.82,599.6 101.25,598.75C100.68,597.9 101.75,596.82 101.9,596.25" stroke-width="1.3" />
<path d="M155,592.6C151.6,592.71 144.82,592.42 140,593.1C135.18,593.78 136.02,594.17 133.75,595.6C131.48,597.03 130.99,597.55 130,599.4C129.01,601.25 128.97,602.05 129.4,603.75C129.83,605.45 130.49,606.28 131.9,606.9C133.31,607.52 134.47,607.36 135.6,606.5C136.73,605.64 137.04,604.29 136.9,603.1C136.76,601.91 135.86,601.25 135,601.25C134.14,601.25 133.53,602.68 133.1,603.1" stroke-width="1.3" />
<path d="M203.05,481V558.8C204.22,559.21 206.31,559.29 208.2,560.6C210.09,561.91 210.58,562.58 211.4,564.6C212.22,566.62 212.25,567.46 211.8,569.5C211.35,571.54 210.96,572.35 209.4,573.6C207.84,574.85 206.84,575 204.9,575C202.96,575 202.23,574.76 200.85,573.6C199.47,572.44 198.99,571.57 198.8,569.9C198.61,568.23 198.89,567.36 200,566.25C201.11,565.14 202.12,564.81 203.7,565C205.28,565.19 206.21,565.9 206.95,567.1C207.69,568.3 207.6,569.23 206.95,570.3C206.3,571.37 205.29,571.8 204.1,571.8C202.91,571.8 202.15,571.18 201.7,570.3C201.25,569.42 201.47,568.53 202.1,567.9C202.73,567.27 203.77,567.14 204.5,567.5C205.23,567.86 205.48,568.96 205.3,569.5C205.12,570.04 204.06,569.81 203.7,569.9" stroke-width="1.3" />
<path d="M200.85,574C199.66,574.63 197.63,575.05 195.6,576.8C193.57,578.55 192.92,579.3 191.9,581.7C190.88,584.1 190.74,584.82 191.1,587.4C191.46,589.98 191.94,591.08 193.5,593.1C195.06,595.12 196.03,595.42 198,596.3C199.97,597.18 201.25,596.05 202.2,597C203.15,597.95 201.7,598.71 202.2,600.5C202.7,602.29 202.92,603.2 204.4,604.9C205.88,606.6 206.63,607.23 208.75,608C210.87,608.77 211.48,608.73 213.75,608.3C216.02,607.87 216.83,607.44 218.75,606.1C220.67,604.76 221.07,604.24 222.2,602.4C223.33,600.56 223.48,599.99 223.75,598C224.02,596.01 222.98,595.5 223.4,593.6C223.82,591.7 224.1,591.01 225.6,589.6C227.1,588.19 227.87,587.69 230,587.4C232.13,587.11 233.1,587.39 235,588.3C236.9,589.21 237.33,589.9 238.4,591.4C239.47,592.9 239.34,593.77 239.7,594.9C240.06,596.03 239.93,596.06 240,596.4H318" stroke-width="1.3" />
<path d="M202.3,587C202.45,587.02 202.68,586.96 202.95,587.07C203.22,587.19 203.32,587.24 203.51,587.5C203.71,587.76 203.75,587.86 203.8,588.2C203.85,588.54 203.85,588.67 203.71,589.02C203.57,589.36 203.5,589.48 203.18,589.73C202.86,589.98 202.73,590.05 202.3,590.1C201.87,590.15 201.71,590.15 201.28,589.96C200.86,589.78 200.71,589.68 200.42,589.28C200.13,588.88 200.06,588.73 200,588.2C199.94,587.67 199.94,587.48 200.16,586.97C200.39,586.45 200.5,586.27 200.98,585.92C201.47,585.56 201.67,585.47 202.3,585.4C202.93,585.33 203.17,585.35 203.78,585.63C204.4,585.91 204.6,586.05 205.01,586.63C205.43,587.22 205.51,587.44 205.6,588.2C205.69,588.96 205.72,589.23 205.42,590C205.11,590.77 204.96,591.03 204.25,591.58C203.54,592.12 203.25,592.28 202.3,592.4C201.35,592.52 200.99,592.51 200.05,592.1C199.11,591.69 198.79,591.48 198.14,590.6C197.5,589.72 197.29,589.34 197.2,588.2C197.11,587.06 197.2,586.63 197.74,585.57C198.28,584.5 198.55,584.17 199.58,583.49C200.62,582.82 201.02,582.69 202.3,582.6C203.58,582.51 204.03,582.55 205.23,583.12C206.44,583.69 206.83,583.98 207.61,585.13C208.4,586.28 208.75,586.64 208.7,588.2C208.65,589.76 208.3,590.46 207.4,592C206.5,593.54 205.84,593.96 204.75,595C203.66,596.04 203.09,596.24 202.6,596.6" stroke-width="1.3" />
<path d="M210.9,595.9C210.73,595.93 210.47,595.88 210.16,596.02C209.85,596.16 209.75,596.23 209.54,596.52C209.34,596.81 209.28,596.93 209.25,597.3C209.22,597.67 209.23,597.81 209.4,598.17C209.57,598.52 209.65,598.64 209.99,598.87C210.33,599.11 210.47,599.17 210.9,599.2C211.33,599.23 211.48,599.2 211.88,599C212.28,598.8 212.41,598.7 212.66,598.32C212.91,597.93 212.93,597.8 213,597.3C213.07,596.8 213.13,596.63 212.95,596.12C212.77,595.6 212.68,595.41 212.22,595.02C211.75,594.63 211.56,594.5 210.9,594.4C210.24,594.3 209.99,594.29 209.32,594.56C208.64,594.83 208.41,594.96 207.93,595.58C207.45,596.2 207.32,596.45 207.2,597.3C207.08,598.15 207.04,598.46 207.38,599.33C207.71,600.2 207.89,600.51 208.68,601.14C209.48,601.77 209.83,601.98 210.9,602.1C211.97,602.22 212.38,602.15 213.42,601.66C214.45,601.17 214.78,600.92 215.46,599.93C216.14,598.95 216.28,598.56 216.4,597.3C216.52,596.04 216.52,595.59 215.98,594.37C215.44,593.14 215.17,592.73 214.02,591.9C212.87,591.07 212.4,590.85 210.9,590.7C209.4,590.55 208.87,590.62 207.4,591.25C205.93,591.88 205.51,592.4 204.4,593.5C203.29,594.6 202.93,595.51 202.5,596.1" stroke-width="1.3" />
<path d="M223.6,596.5C224.05,597.27 224.35,598.99 225.6,599.9C226.85,600.81 227.4,600.73 229.1,600.5C230.8,600.27 231.83,600.03 233.1,598.9C234.37,597.77 234.7,597.04 234.7,595.5C234.7,593.96 234.23,593.1 233.1,592.1C231.97,591.1 231.11,590.9 229.7,591.1C228.29,591.3 227.6,591.87 226.9,593C226.2,594.13 226.18,594.9 226.6,596.1C227.02,597.3 227.62,598.01 228.75,598.3C229.88,598.59 230.75,598.1 231.6,597.4C232.45,596.7 232.66,596.13 232.5,595.2C232.34,594.27 231.72,593.57 230.9,593.3C230.08,593.03 229.42,593.43 228.9,594C228.38,594.57 228.35,595.23 228.6,595.8C228.85,596.37 229.68,596.34 230,596.5" stroke-width="1.3" />
<path d="M338.9,555.2C338.31,555.38 337.3,555 336.3,556C335.3,557 334.6,558.19 334.5,559.6C334.4,561.01 334.99,561.54 335.85,562.2C336.71,562.86 337.38,562.91 338.3,562.5C339.22,562.09 339.81,561.33 339.9,560.4C339.99,559.47 339.4,558.67 338.7,558.4C338,558.13 337.14,558.64 336.8,559.2C336.46,559.76 337.11,560.48 337.2,560.85" stroke-width="1.3" />
<path d="M338.9,485V555.2" stroke-width="1.3" />
<path d="M338.9,555.2C339.49,555.38 340.53,555.27 341.5,556C342.47,556.73 342.72,557.21 343.2,558.4C343.68,559.59 344.17,559.78 343.6,561.25C343.03,562.72 342.08,563.05 340.7,564.9C339.32,566.75 338.6,567.56 337.5,569.4C336.4,571.24 335.94,571.62 335.85,573C335.76,574.38 336.36,575.3 337.1,575.5C337.84,575.7 338.56,575.1 339.1,573.9C339.64,572.7 339.86,571.59 339.5,570.2C339.14,568.81 338.97,568.48 337.5,567.75C336.03,567.02 334.95,566.63 333,567C331.05,567.37 330.19,567.76 328.9,569.4C327.61,571.04 327.3,571.85 327.3,574.25C327.3,576.65 327.43,577.79 328.9,580C330.37,582.21 331.4,582.81 333.8,584C336.2,585.19 337.1,585.07 339.5,585.25C341.9,585.43 342.47,585.17 344.4,584.8C346.33,584.43 347.18,583.87 348,583.6" stroke-width="1.3" />
<path d="M348,583.6C347.73,584.62 346.98,585.61 346.8,588.1C346.62,590.59 346.45,591.83 347.2,594.6C347.95,597.37 348.33,598.19 350.1,600.3C351.87,602.41 352.61,603.17 355,603.9C357.39,604.63 358.54,604.5 360.65,603.5C362.76,602.5 363.38,601.34 364.3,599.5C365.22,597.66 365.15,596.87 364.7,595.4C364.25,593.93 363.68,593.63 362.3,593C360.92,592.37 359.89,592.33 358.6,592.6C357.31,592.87 356.87,593.38 356.6,594.2C356.33,595.02 356.48,595.75 357.4,596.2C358.32,596.65 359,596.74 360.65,596.2C362.3,595.66 362.85,595.27 364.7,593.8C366.55,592.33 366.96,590.9 368.8,589.7C370.64,588.5 371.15,588.32 372.8,588.5C374.45,588.68 375.26,589.12 376.1,590.5C376.94,591.88 376.95,593.04 376.5,594.6C376.05,596.16 375.39,596.86 374.1,597.4C372.81,597.94 371.91,597.63 370.8,597C369.69,596.37 369.2,595.6 369.2,594.6C369.2,593.6 369.98,592.87 370.8,592.6C371.62,592.33 372.35,592.86 372.8,593.4C373.25,593.94 372.8,594.64 372.8,595" stroke-width="1.3" />
<path d="M376.5,592.4H447.4" stroke-width="1.3" />
<path d="M479.9,487.6V552.7" stroke-width="1.3" />
<path d="M479.9,552.7C480.94,552.7 482.62,552.04 484.5,552.7C486.38,553.36 487.27,554.22 488.2,555.6C489.13,556.98 488.99,557.61 488.6,558.8C488.21,559.99 487.61,560.49 486.5,560.85C485.39,561.21 484.61,560.77 483.7,560.4C482.79,560.03 482.41,559.65 482.5,559.2C482.59,558.75 483.19,558.22 484.1,558.4C485.01,558.58 485.57,558.89 486.5,560C487.43,561.11 487.45,561.92 488.2,563.3C488.95,564.68 488.8,565.26 489.8,566.1C490.8,566.94 491.49,567.27 492.6,567C493.71,566.73 494.31,566.01 494.7,564.9C495.09,563.79 494.96,563.02 494.3,562.1C493.64,561.18 492.73,560.76 491.8,560.85C490.87,560.94 490.38,561.76 490.2,562.5C490.02,563.24 490.55,563.87 491,564.1C491.45,564.33 491.93,563.64 492.2,563.5" stroke-width="1.3" />
<path d="M479.9,552.7C479.11,553.36 477.67,553.85 476.4,555.6C475.13,557.35 474.78,558.02 474.3,560.4C473.82,562.78 474.01,564.24 474.3,566.1C474.59,567.96 474.67,567.94 475.6,568.6C476.53,569.26 477.58,569.16 478.4,569C479.22,568.84 479.47,568.22 479.2,567.9C478.93,567.58 478.11,567.35 477.2,567.6C476.29,567.85 475.86,567.87 475.2,569C474.54,570.13 474.21,570.76 474.3,572.6C474.39,574.44 474.67,575.72 475.6,577.1C476.53,578.48 477.11,578.7 478.4,578.7C479.69,578.7 480.55,577.92 481.3,577.1C482.05,576.28 482.18,575.46 481.7,575.1C481.22,574.74 480.4,574.87 479.2,575.5C478,576.13 477.51,576.52 476.4,577.9C475.29,579.28 474.67,579.65 474.3,581.6C473.93,583.55 473.91,584.66 474.75,586.5C475.59,588.34 476.24,588.97 478,589.7C479.76,590.43 480.85,590.33 482.5,589.7C484.15,589.07 484.76,588.28 485.3,586.9C485.84,585.52 485.63,584.62 484.9,583.6C484.17,582.58 483.3,582.22 482.1,582.4C480.9,582.58 479.88,583.47 479.6,584.4C479.32,585.33 480.19,586.31 480.85,586.5C481.51,586.69 482.13,585.53 482.5,585.25" stroke-width="1.3" />
<path d="M488.6,594.75C488.78,594.53 489.67,594.2 489.4,593.8C489.13,593.4 488.15,592.73 487.4,593C486.65,593.27 485.92,594.09 486.1,595C486.28,595.91 487.09,596.82 488.2,597C489.31,597.18 490.27,596.8 491,595.8C491.73,594.8 491.94,593.89 491.4,592.6C490.86,591.31 490.16,590.49 488.6,590.1C487.04,589.71 485.88,590.06 484.5,590.9C483.12,591.74 482.59,591.96 482.5,593.8C482.41,595.64 482.72,597.25 484.1,599C485.48,600.75 486.58,601.02 488.6,601.5C490.62,601.98 491.35,601.55 493,601.1C494.65,600.65 494.79,600.61 495.9,599.5C497.01,598.39 497.63,597.4 497.9,596.2C498.17,595 497.73,594.29 497.1,594.2C496.47,594.11 495.46,594.6 495.1,595.8C494.74,597 494.77,598.3 495.5,599.5C496.23,600.7 496.74,600.74 498.3,601.1C499.86,601.46 500.93,601.28 502.4,601.1C503.87,600.92 503.96,600.95 504.8,600.3C505.64,599.65 506.1,599 506.1,598.25C506.1,597.5 505.28,596.9 504.8,597C504.32,597.1 503.91,597.86 504,598.7C504.09,599.54 503.91,600.07 505.2,600.7C506.49,601.33 507.39,601.5 509.7,601.5C512.01,601.5 513.18,601.53 515.4,600.7C517.62,599.87 518.21,599.41 519.5,597.85C520.79,596.29 521.1,595.74 521.1,593.8C521.1,591.86 520.7,590.77 519.5,589.3C518.3,587.83 517.36,587.48 515.8,587.3C514.24,587.12 513.52,587.59 512.6,588.5C511.68,589.41 511.48,590.1 511.75,591.3C512.02,592.5 512.97,593.51 513.8,593.8C514.63,594.09 515.4,593.53 515.4,592.6C515.4,591.67 514.91,590.9 513.8,589.7C512.69,588.5 511.88,588.22 510.5,587.3C509.12,586.38 508.52,586.58 507.7,585.65C506.88,584.72 506.63,584.12 506.9,583.2C507.17,582.28 507.8,581.78 508.9,581.6C510,581.42 510.91,581.77 511.75,582.4C512.59,583.03 512.88,583.66 512.6,584.4C512.32,585.14 511.25,585.65 510.5,585.65C509.75,585.65 509.57,584.68 509.3,584.4" stroke-width="1.3" />
<path d="M519.5,598.25H587.6" stroke-width="1.3" />
<path d="M649.4,601a9,9 0 1 0 18,0a9,9 0 1 0 -18,0" stroke-width="1.3" />
<path d="M653.0,601a5.4,5.4 0 1 0 10.8,0a5.4,5.4 0 1 0 -10.8,0" stroke-width="1.3" />
<path d="M658.4,586V495" stroke-width="1.3" />
<path d="M658.4,495L655,490L658.4,479L661.9,490Z" stroke-width="1.3" stroke-linejoin="miter"/>
<path d="M673,601H764" stroke-width="1.3" />
<path d="M763.6,601L768.4,597.8L779.6,601L768.4,604.4Z" stroke-width="1.3" stroke-linejoin="miter"/>
<path d="M58,637.6V711C57.46,711.09 57.07,710.67 55.6,711.4C54.13,712.13 52.88,712.45 51.5,714.2C50.12,715.95 49.59,716.97 49.5,719.1C49.41,721.23 49.81,722.04 51.1,723.6C52.39,725.16 53.27,725.64 55.2,726C57.13,726.36 58.04,726.11 59.6,725.2C61.16,724.29 61.82,723.56 62.1,722C62.38,720.44 61.96,719.5 60.85,718.3C59.74,717.1 58.67,716.61 57.2,716.7C55.73,716.79 55,717.5 54.35,718.7C53.7,719.9 53.7,720.89 54.35,722C55,723.11 56.01,723.71 57.2,723.6C58.39,723.49 59.33,722.52 59.6,721.5C59.87,720.48 59.22,719.46 58.4,719.1C57.58,718.74 56.36,719.24 56,719.9C55.64,720.56 56.35,721.75 56.8,722C57.25,722.25 57.73,721.23 58,721" stroke-width="1.3" />
<path d="M57.5,726.1C57.98,726.08 58.01,725.57 59.6,726C61.19,726.43 62.55,726.53 64.5,728C66.45,729.47 67.09,730.37 68.2,732.5C69.31,734.63 69.13,736.29 69.4,737.4" stroke-width="1.3" />
<path d="M69.5,739.5C69.91,739.07 70.03,738.1 71.3,737.6C72.57,737.1 73.13,736.8 75.1,737.3C77.07,737.8 78.16,738.12 80,739.8C81.84,741.48 82.29,742.3 83.2,744.7C84.11,747.1 83.07,748 84,750.4C84.93,752.8 85.44,753.83 87.3,755.3C89.16,756.77 90,757.08 92.2,756.9C94.4,756.72 95.53,755.97 97,754.5C98.47,753.03 98.22,751.74 98.7,750.4C99.18,749.06 99.01,749.01 99.1,748.6H172.4" stroke-width="1.3" />
<path d="M58.8,738.5C58.69,738.48 58.53,738.38 58.3,738.43C58.06,738.47 57.96,738.49 57.75,738.69C57.54,738.89 57.46,738.98 57.38,739.3C57.29,739.62 57.27,739.76 57.39,740.12C57.5,740.48 57.56,740.62 57.88,740.89C58.2,741.17 58.34,741.27 58.8,741.35C59.26,741.43 59.44,741.44 59.93,741.26C60.41,741.07 60.59,740.98 60.94,740.53C61.29,740.09 61.39,739.91 61.47,739.3C61.56,738.69 61.55,738.47 61.3,737.86C61.04,737.25 60.91,737.04 60.35,736.62C59.78,736.2 59.55,736.08 58.8,736C58.05,735.92 57.78,735.93 57.05,736.26C56.32,736.59 56.07,736.75 55.58,737.44C55.09,738.13 54.96,738.41 54.88,739.3C54.79,740.19 54.82,740.51 55.22,741.37C55.62,742.22 55.82,742.5 56.63,743.06C57.44,743.62 57.77,743.77 58.8,743.85C59.83,743.93 60.2,743.89 61.18,743.42C62.15,742.95 62.47,742.72 63.1,741.78C63.73,740.85 63.89,740.47 63.97,739.3C64.06,738.13 64,737.71 63.46,736.61C62.92,735.51 62.65,735.16 61.6,734.46C60.54,733.75 60.1,733.56 58.8,733.5C57.5,733.44 57.03,733.56 55.85,734.19C54.67,734.83 54.32,735.14 53.6,736.3C52.89,737.46 52.8,737.88 52.7,739.3C52.6,740.72 52.55,741.2 53.14,742.57C53.74,743.93 54.03,744.4 55.32,745.33C56.6,746.27 56.88,746.55 58.8,746.7C60.72,746.85 61.99,746.79 63.8,746C65.61,745.21 65.71,744.49 66.8,743.2C67.89,741.91 68.01,741.52 68.6,740.3C69.19,739.08 69.22,738.37 69.4,737.8" stroke-width="1.3" />
<path d="M71,747.2C71.11,747.19 71.26,747.11 71.49,747.16C71.71,747.21 71.8,747.24 71.99,747.43C72.18,747.62 72.25,747.7 72.31,748C72.38,748.3 72.39,748.42 72.28,748.74C72.17,749.07 72.12,749.19 71.83,749.43C71.54,749.68 71.41,749.76 71,749.83C70.59,749.89 70.43,749.9 70,749.73C69.58,749.56 69.43,749.48 69.12,749.08C68.82,748.69 68.73,748.53 68.66,748C68.6,747.47 68.6,747.27 68.83,746.75C69.05,746.22 69.17,746.04 69.66,745.68C70.15,745.32 70.35,745.22 71,745.15C71.65,745.08 71.88,745.1 72.51,745.38C73.14,745.67 73.34,745.81 73.76,746.4C74.18,747 74.3,747.24 74.36,748C74.43,748.76 74.4,749.04 74.06,749.77C73.72,750.49 73.55,750.73 72.85,751.21C72.16,751.69 71.88,751.81 71,751.88C70.12,751.94 69.8,751.9 68.98,751.5C68.15,751.1 67.88,750.9 67.35,750.11C66.81,749.31 66.68,748.99 66.61,748C66.55,747.01 66.59,746.65 67.05,745.72C67.51,744.79 67.74,744.5 68.64,743.9C69.53,743.31 69.88,743.19 71,743.1C72.12,743.01 72.52,743.03 73.58,743.53C74.65,744.02 75,744.27 75.71,745.28C76.41,746.3 76.61,746.72 76.7,748C76.79,749.28 76.71,749.75 76.11,750.95C75.51,752.15 75.21,752.52 74.05,753.28C72.89,754.04 72.45,754.18 71,754.3C69.55,754.42 69.04,754.43 67.65,753.8C66.26,753.18 65.79,752.87 64.85,751.55C63.91,750.23 63.87,749.64 63.5,748C63.13,746.36 62.95,745.89 63.2,744.3C63.45,742.71 63.78,742.25 64.6,741C65.42,739.75 65.71,739.57 66.8,738.8C67.89,738.03 68.81,737.87 69.4,737.6" stroke-width="1.3" />
<path d="M84,749.6C84.16,749 84.11,747.99 84.71,746.95C85.31,745.91 85.61,745.61 86.65,745.01C87.69,744.41 88.11,744.27 89.3,744.3C90.49,744.33 90.9,744.49 91.88,745.13C92.87,745.76 93.13,746.07 93.66,747.08C94.18,748.1 94.28,748.5 94.2,749.6C94.12,750.7 93.93,751.06 93.31,751.92C92.7,752.77 92.39,752.98 91.48,753.38C90.57,753.79 90.23,753.8 89.3,753.7C88.37,753.6 88.08,753.44 87.38,752.92C86.68,752.39 86.52,752.14 86.21,751.38C85.9,750.63 85.91,750.36 86,749.6C86.09,748.84 86.17,748.62 86.59,748.03C87,747.45 87.2,747.31 87.82,747.03C88.43,746.75 88.67,746.73 89.3,746.8C89.93,746.87 90.13,746.96 90.62,747.32C91.1,747.67 91.21,747.85 91.44,748.37C91.66,748.88 91.67,749.08 91.6,749.6C91.53,750.12 91.45,750.28 91.15,750.67C90.85,751.05 90.7,751.14 90.28,751.3C89.86,751.47 89.71,751.47 89.3,751.4C88.89,751.33 88.77,751.26 88.48,751.01C88.2,750.77 88.14,750.65 88.03,750.33C87.92,750.01 87.93,749.89 88,749.6C88.07,749.31 88.13,749.22 88.32,749.03C88.5,748.84 88.59,748.82 88.82,748.76C89.04,748.71 89.19,748.79 89.3,748.8" stroke-width="1.3" />
<path d="M222.25,639.4V741.5" stroke-width="1.3" />
<path d="M230.5,749.75H332" stroke-width="1.3" />
<path d="M221.75,742L231.25,740.25L230.5,750L220,752.25Z" stroke-width="1.3" stroke-linejoin="miter"/>
<path d="M221.9,741.9C219,742.8 216.2,741.5 216.2,739.5C216.2,737.5 218.5,736.6 220,737.8C221.2,738.8 221.6,740.5 221.9,741.9" stroke-width="1.3" />
<path d="M230.5,750C233.3,749.8 235.2,751.5 234.9,753.6C234.6,755.6 232,756.3 230.9,754.9C230.1,753.8 230.3,751.5 230.5,750" stroke-width="1.3" />
<path d="M358.75,642C358.41,642.34 357.99,643.44 357.25,643.5C356.51,643.56 355.84,643.1 355.5,642.25C355.16,641.4 355.13,640.66 355.75,639.75C356.37,638.84 357.06,638.31 358.25,638.25C359.44,638.19 360.21,638.54 361,639.5C361.79,640.46 361.69,640.12 361.75,642.5C361.81,644.88 361.82,643.77 361.25,650C360.68,656.23 360.1,659.23 359.25,670C358.4,680.77 357.86,690.84 357.5,697.5C357.14,704.16 357.2,697.93 357.65,699.4C358.1,700.87 358.12,702.21 359.5,704C360.88,705.79 361.94,706.87 363.75,707.3C365.56,707.73 366.45,707.06 367.5,705.9C368.55,704.74 368.83,703.79 368.4,702.2C367.97,700.61 367.3,699.85 365.6,698.9C363.9,697.95 362.92,697.8 360.9,698C358.88,698.2 358.17,698.21 356.7,699.8C355.23,701.39 354.83,702.33 354.4,705C353.97,707.67 354.06,708.83 354.8,711.6C355.54,714.37 356.27,715.09 357.65,717.2C359.03,719.31 359.3,719.74 360.9,720.9C362.5,722.06 363.09,722.39 364.7,722.3C366.31,722.21 367.25,721.55 368,720.5C368.75,719.45 368.66,718.51 368,717.65C367.34,716.79 366.48,716.48 365.1,716.7C363.72,716.92 362.94,717.42 361.9,718.6C360.86,719.78 360.5,720.09 360.5,721.9C360.5,723.71 360.95,724.27 361.9,726.6C362.85,728.93 363.54,729.87 364.7,732.2C365.86,734.53 366.37,735.11 367,736.9C367.63,738.69 367.82,738.83 367.5,740.1C367.18,741.37 366.78,741.84 365.6,742.5C364.42,743.16 363.57,743.43 362.3,743C361.03,742.57 360.32,741.78 360,740.6C359.68,739.42 360.05,738.55 360.9,737.8C361.75,737.05 362.89,736.87 363.75,737.3C364.61,737.73 364.92,738.95 364.7,739.7C364.48,740.45 363.34,740.71 362.8,740.6C362.26,740.49 362.41,739.52 362.3,739.2" stroke-width="1.3" />
<path d="M369.2,748.3C368.93,748.5 368.57,749.35 368,749.2C367.43,749.05 366.61,748.38 366.7,747.65C366.79,746.92 367.47,746.1 368.4,746C369.33,745.9 370.26,746.29 370.8,747.2C371.34,748.11 371.55,749.05 370.8,750C370.05,750.95 368.88,751.63 367.5,751.4C366.12,751.17 365.33,750.27 364.7,749C364.07,747.73 364.27,747.07 364.7,745.8C365.13,744.53 364.7,743.51 366.6,743.4C368.5,743.29 370.13,744.12 373.1,745.3C376.07,746.48 376.93,747.42 379.7,748.6C382.47,749.78 382.97,750.5 385.3,750.5C387.63,750.5 388.62,749.78 390,748.6C391.38,747.42 391.51,746.57 391.4,745.3C391.29,744.03 390.57,743.2 389.5,743C388.43,742.8 387.49,743.04 386.7,744.4C385.91,745.76 385.48,746.89 386,749C386.52,751.11 386.82,752.02 389,753.7C391.18,755.38 392.4,755.97 395.6,756.4C398.8,756.83 400.13,756.3 403.1,755.6C406.07,754.9 407.11,754.57 408.7,753.3C410.29,752.03 409.99,751.81 410.1,750C410.21,748.19 410.15,747 409.2,745.3C408.25,743.6 407.49,742.93 405.9,742.5C404.31,742.07 403.27,742.33 402.2,743.4C401.13,744.47 400.79,745.39 401.2,747.2C401.61,749.01 402.07,749.92 404,751.4C405.93,752.88 407.21,753.32 409.7,753.75C412.19,754.18 408.13,753.81 415,753.3C421.87,752.79 428.67,752.38 440,751.5C451.33,750.62 458.65,749.74 465,749.4C471.35,749.06 466.92,749.35 468,750C469.08,750.65 469.52,751.12 469.75,752.25C469.98,753.38 469.74,754.09 469,755C468.26,755.91 467.52,756.31 466.5,756.25C465.48,756.19 464.9,755.54 464.5,754.75C464.1,753.96 464.47,753.32 464.75,752.75C465.03,752.18 465.52,752.36 465.75,752.25" stroke-width="1.3" />
<path d="M499.5,638C500.07,638.34 500.75,639.61 502,639.5C503.25,639.39 504.21,638.86 505,637.5C505.79,636.14 506.07,635.2 505.5,633.5C504.93,631.8 504.2,630.91 502.5,630C500.8,629.09 500.04,628.93 498,629.5C495.96,630.07 494.97,630.57 493.5,632.5C492.03,634.43 491.61,635.28 491.5,638C491.39,640.72 491.53,641.78 493,644.5C494.47,647.22 495.51,647.51 498,650C500.49,652.49 501.39,652.78 504,655.5C506.61,658.22 507.46,658.94 509.5,662C511.54,665.06 511.8,665.6 513,669C514.2,672.4 514.35,673.37 514.8,677C515.25,680.63 515.07,681.26 515,685C514.93,688.74 514.35,689.59 514.5,693.5C514.65,697.41 515.9,697.49 515.65,702.25C515.4,707.01 514.59,709.34 513.4,714.5C512.21,719.66 511.4,720.24 510.4,725C509.4,729.76 508.73,731.14 509,735.5C509.27,739.86 509.22,741.08 511.6,744.25C513.98,747.42 514.93,747.91 519.5,749.5C524.07,751.09 525.8,751.45 531.75,751.25C537.7,751.05 540.16,749.9 545.75,748.6C551.34,747.3 552.31,746.72 556.4,745.5C560.49,744.28 560.43,744.02 563.8,743.2C567.17,742.38 567.63,742.19 571.25,741.9C574.87,741.61 576.13,741.47 579.75,741.9C583.37,742.33 583.83,742.39 587.2,743.8C590.57,745.21 591.47,745.81 594.6,748.1C597.73,750.39 598.1,751.13 601,753.9C603.9,756.67 604.51,757.97 607.4,760.3C610.29,762.63 610.87,763.11 613.75,764.2C616.63,765.29 617.45,765.51 620.1,765.1C622.75,764.69 623.7,764.1 625.45,762.4C627.2,760.7 627.56,759.76 627.8,757.6C628.04,755.44 627.76,754.29 626.5,752.85C625.24,751.41 624.06,751.25 622.25,751.25C620.44,751.25 619.66,751.77 618.5,752.85C617.34,753.93 617.15,754.67 617.15,756C617.15,757.33 618.19,758.09 618.5,758.7" stroke-width="1.3" />
<path d="M500,668.5C500.34,668.27 500.82,667.27 501.5,667.5C502.18,667.73 503.11,668.53 503,669.5C502.89,670.47 502.13,671.46 501,671.8C499.87,672.14 498.91,671.97 498,671C497.09,670.03 496.66,669.09 497,667.5C497.34,665.91 497.91,665.07 499.5,664C501.09,662.93 501.96,662.69 504,662.8C506.04,662.91 506.69,663.32 508.5,664.5C510.31,665.68 510.84,666.53 512,668C513.16,669.47 513.24,670.32 513.6,671" stroke-width="1.3" />
<path d="M497,692.5C497.34,692.05 497.48,690.73 498.5,690.5C499.52,690.27 500.71,690.59 501.5,691.5C502.29,692.41 502.57,693.3 502,694.5C501.43,695.7 500.7,696.57 499,696.8C497.3,697.03 495.97,696.7 494.5,695.5C493.03,694.3 492.39,693.54 492.5,691.5C492.61,689.46 493.07,688.15 495,686.5C496.93,684.85 498.28,684.43 501,684.2C503.72,683.97 504.62,684.41 507,685.5C509.38,686.59 509.91,687.07 511.5,689C513.09,690.93 514,691.85 514,694C514,696.15 512.84,696.12 511.5,698.5C510.16,700.88 509.66,700.48 508.1,704.5C506.54,708.52 505.39,710.81 504.6,716.25C503.81,721.69 503.81,722.95 504.6,728.5C505.39,734.05 505.91,736.78 508.1,740.75C510.29,744.72 510.48,744.61 514.25,746C518.02,747.39 519.59,747.1 524.75,746.9C529.91,746.7 531.45,746.05 537,745.1C542.55,744.15 544.38,743.33 549.25,742.7C554.12,742.07 555.2,742.1 558.5,742.3C561.8,742.5 561.4,742.42 563.8,743.6C566.2,744.78 567.22,745.4 569.1,747.5C570.98,749.6 571.49,750.31 572.1,752.85C572.71,755.39 572.48,756.54 571.8,758.7C571.12,760.86 570.66,761.24 569.1,762.4C567.54,763.56 566.7,763.91 564.9,763.8C563.1,763.69 562.17,763.17 561.15,761.9C560.13,760.63 560.09,759.65 560.4,758.2C560.71,756.75 561.37,756 562.5,755.5C563.63,755 564.49,755.39 565.4,756C566.31,756.61 566.61,757.35 566.5,758.2C566.39,759.05 565.26,759.4 564.9,759.75" stroke-width="1.3" />
<path d="M579.75,741.9C580.71,742.09 581.84,741.84 584,742.75C586.16,743.66 587.26,744.1 589.3,745.9C591.34,747.7 592.03,748.52 593,750.7C593.97,752.88 594.08,753.64 593.6,755.5C593.12,757.36 592.35,758.13 590.9,758.9C589.45,759.67 588.4,759.56 587.2,758.9C586,758.24 585.6,757.13 585.6,756C585.6,754.87 586.32,754.13 587.2,753.9C588.08,753.67 589.02,754.39 589.5,755C589.98,755.61 589.35,756.24 589.3,756.6" stroke-width="1.3" />
<path d="M667.5,652.2C667.78,652.05 668.12,651.41 668.75,651.55C669.38,651.69 670.08,652.02 670.3,652.8C670.52,653.58 670.47,654.37 669.7,655C668.93,655.63 667.99,655.88 666.9,655.6C665.81,655.32 665.19,654.88 664.9,653.75C664.61,652.62 664.65,651.65 665.6,650.6C666.55,649.55 667.47,649.03 669.1,649.1C670.73,649.17 671.78,649.56 672.8,650.9C673.82,652.24 674.03,653.14 673.6,655C673.17,656.86 672.57,657.9 670.9,659.1C669.23,660.3 668.37,660.59 666.25,660.3C664.13,660.01 663.1,659.43 661.55,657.8C660,656.17 659.68,655.3 659.4,653.1C659.12,650.9 659.31,650.14 660.3,648.1C661.29,646.06 661.69,645.39 663.75,644.1C665.81,642.81 666.85,642.48 669.4,642.4C671.95,642.32 672.73,642.59 675,643.75C677.27,644.91 677.92,645.38 679.4,647.5C680.88,649.62 680.98,650.27 681.55,653.1C682.12,655.93 681.75,652.77 681.9,660C682.05,667.23 682.06,672.53 682.2,685C682.34,697.47 682.5,705.71 682.5,715C682.5,724.29 682.59,721.94 682.2,726C681.81,730.06 681.73,730.09 680.8,732.9C679.87,735.71 679.51,736.7 678.1,738.4C676.69,740.1 675.95,740.56 674.6,740.4C673.25,740.24 672.15,739.24 672.15,737.7C672.15,736.16 672.48,735.25 674.6,733.6C676.72,731.95 677.44,731.35 681.5,730.4C685.56,729.45 683.77,729.63 692.5,729.4C701.23,729.17 707.53,729.3 720,729.4C732.47,729.5 738.77,729.53 747.5,729.85C756.23,730.17 754.6,729.66 758.5,730.8C762.4,731.94 762.66,732.41 764.7,734.9C766.74,737.39 767.34,738.67 767.5,741.8C767.66,744.93 767.12,746.3 765.4,748.7C763.68,751.1 762.55,751.88 759.9,752.4C757.25,752.92 755.88,752.47 753.7,751C751.52,749.53 750.76,748.3 750.3,745.9C749.84,743.5 750.24,742.17 751.65,740.4C753.06,738.63 754.31,738.1 756.5,738.1C758.69,738.1 759.96,738.77 761.3,740.4C762.64,742.03 762.88,743.42 762.4,745.3C761.92,747.18 760.85,748.16 759.2,748.7C757.55,749.24 756.35,748.72 755.1,747.7C753.85,746.68 753.38,745.54 753.7,744.2C754.02,742.86 755.25,742.03 756.5,741.8C757.75,741.57 758.59,742.27 759.2,743.2C759.81,744.13 759.66,745.17 759.2,745.9C758.74,746.63 757.61,746.29 757.15,746.4" stroke-width="1.3" />
</g></svg></body></html>
